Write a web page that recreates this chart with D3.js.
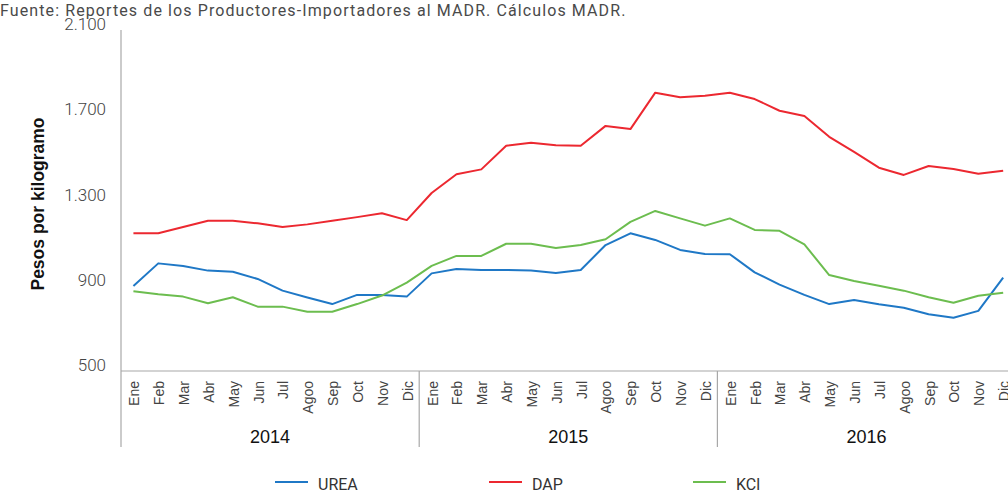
<!DOCTYPE html>
<html>
<head>
<meta charset="utf-8">
<script src="https://cdn.jsdelivr.net/npm/d3@7"></script>
<style>
  body { margin: 0; background: #fff; }
</style>
</head>
<body>
<div id="chart"></div>
<script>
// Data (pesos por kilogramo)
const years = ["2014", "2015", "2016"];
const months = ["Ene", "Feb", "Mar", "Abr", "May", "Jun", "Jul", "Agoo", "Sep", "Oct", "Nov", "Dic"];

const urea = [899, 1005, 993, 971, 966, 932, 877, 845, 814, 857, 857, 849,
              958, 979, 974, 974, 972, 960, 974, 1091, 1146, 1115, 1068, 1049,
              1048, 963, 905, 857, 814, 833, 813, 797, 766, 750, 782, 938];
const dap  = [1146, 1146, 1176, 1205, 1205, 1193, 1176, 1188, 1205, 1222, 1240, 1208,
              1335, 1423, 1446, 1557, 1571, 1559, 1557, 1650, 1635, 1806, 1784, 1792,
              1806, 1776, 1721, 1696, 1599, 1528, 1454, 1420, 1462, 1448, 1426, 1440];
const kcl  = [874, 860, 849, 818, 846, 802, 802, 778, 778, 814, 854, 915,
              993, 1040, 1040, 1097, 1097, 1077, 1091, 1118, 1200, 1251, 1216, 1182,
              1216, 1162, 1158, 1094, 950, 922, 900, 877, 846, 820, 853, 867];

const yTicks = [500, 900, 1300, 1700, 2100];
const seriesNames = ["UREA", "DAP", "KCl"];
const seriesColors = ["#1f78c6", "#ec2830", "#6cbd4f"];

const width = 1008, height = 492;
const axisColor = "#a8a8a8";

const svg = d3.select("#chart")
  .append("svg")
    .attr("width", width)
    .attr("height", height);

// month keys, one per point
const keys = [];
years.forEach(yr => months.forEach(m => keys.push(yr + "-" + m)));

// X scale: one band per month
const step = 24.85;
const x = d3.scaleBand()
  .domain(keys)
  .range([121, 121 + keys.length * step])
  .padding(0);
const bw = x.bandwidth();

// Y scale
const y = d3.scaleLinear()
  .domain([500, 2100])
  .range([371, 30]);

// Source note
svg.append("text")
  .attr("x", 0)
  .attr("y", 16)
  .style("font-family", "Roboto, sans-serif")
  .style("font-size", "16px")
  .style("letter-spacing", "1.1px")
  .style("fill", "#4a4a4a")
  .text("Fuente: Reportes de los Productores-Importadores al MADR. Cálculos MADR.");

// Y axis labels
const yAxis = svg.append("g")
  .attr("transform", "translate(121,0)")
  .call(d3.axisLeft(y).tickValues(yTicks).tickSize(0).tickPadding(15)
    .tickFormat(d => d3.format(",")(d).replace(",", ".")));
yAxis.select(".domain").remove();
yAxis.selectAll("text")
  .attr("dy", "-0.02em")
  .style("font-family", "Roboto, sans-serif")
  .style("font-size", "17px")
  .style("font-weight", "300")
  .style("fill", "#444");

// axis lines
svg.append("line")
  .attr("x1", 121).attr("x2", 121)
  .attr("y1", 30).attr("y2", 447)
  .attr("stroke", axisColor).attr("stroke-width", 1.2);
svg.append("line")
  .attr("x1", 121).attr("x2", width)
  .attr("y1", y(500)).attr("y2", y(500))
  .attr("stroke", axisColor).attr("stroke-width", 1.2);

// year separators
svg.selectAll(".sep")
  .data(years.slice(1))
  .enter()
  .append("line")
    .attr("x1", d => x(d + "-Ene"))
    .attr("x2", d => x(d + "-Ene"))
    .attr("y1", y(500))
    .attr("y2", 447)
    .attr("stroke", axisColor)
    .attr("stroke-width", 1.2);

// Month labels
svg.selectAll(".month")
  .data(keys)
  .enter()
  .append("text")
    .attr("transform", d => `translate(${x(d) + bw / 2 + 1}, 381)rotate(-90)`)
    .attr("dy", "0.35em")
    .style("text-anchor", "end")
    .style("font-family", "'Liberation Sans', Arial, sans-serif")
    .style("font-size", "14px")
    .style("fill", "#444")
    .text(d => d.split("-")[1]);

// Year labels
svg.selectAll(".year")
  .data(years)
  .enter()
  .append("text")
    .attr("x", d => (x(d + "-Ene") + x(d + "-Dic") + bw) / 2)
    .attr("y", 443)
    .style("text-anchor", "middle")
    .style("font-family", "'Liberation Sans', Arial, sans-serif")
    .style("font-size", "18px")
    .style("fill", "#111")
    .text(d => d);

// Y title
svg.append("text")
  .attr("transform", "translate(44,204)rotate(-90)")
  .style("text-anchor", "middle")
  .style("font-family", "'Liberation Sans', Arial, sans-serif")
  .style("font-size", "17.5px")
  .style("font-weight", "bold")
  .style("fill", "#111")
  .text("Pesos por kilogramo");

// Lines
const line = d3.line()
  .x((d, i) => x(keys[i]) + bw / 2)
  .y(d => y(d));

const series = [urea, dap, kcl];
svg.selectAll(".series")
  .data(series)
  .enter()
  .append("path")
    .attr("d", d => line(d))
    .attr("fill", "none")
    .attr("stroke", (d, i) => seriesColors[i])
    .attr("stroke-width", 2)
    .attr("stroke-linejoin", "round");

// Legend
const legendX = [275, 489, 693];
const legend = svg.selectAll(".legend")
  .data(seriesNames)
  .enter()
  .append("g")
    .attr("transform", (d, i) => `translate(${legendX[i]}, 482)`);
legend.append("line")
  .attr("x1", 0).attr("x2", 33)
  .attr("y1", 0).attr("y2", 0)
  .attr("stroke", (d, i) => seriesColors[i])
  .attr("stroke-width", 2);
legend.append("text")
  .attr("x", 43)
  .attr("y", 8)
  .style("font-family", "Roboto, sans-serif")
  .style("font-size", "16px")
  .style("fill", "#333")
  .text(d => d);
</script>
</body>
</html>
